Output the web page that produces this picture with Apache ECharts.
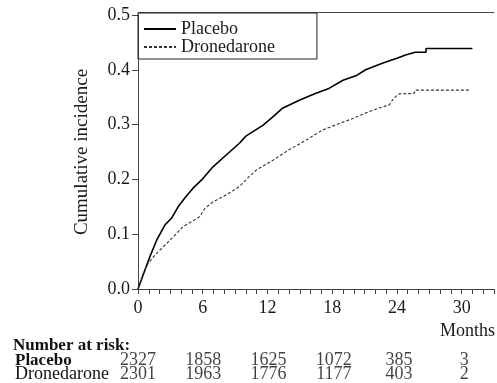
<!DOCTYPE html>
<html><head><meta charset="utf-8">
<script src="https://cdn.jsdelivr.net/npm/echarts@6/dist/echarts.min.js"></script>
<style>html,body{margin:0;padding:0;background:#fff}#c{width:497px;height:383px}</style>
</head><body><div id="c"></div>
<script>
const placeboMonths = [0, 0.65, 1.1, 1.73, 2.5, 3.1, 3.72, 4.34, 5.1, 5.9, 6.95, 8.2, 9.4, 10.0, 11.6, 12.5, 13.4, 15.0, 16.5, 17.7, 19.0, 20.2, 21.1, 22.65, 24.0, 24.8, 25.7, 26.7, 26.7, 31.0];
const placeboValues = [0, 0.035, 0.059, 0.089, 0.117, 0.129, 0.150, 0.166, 0.184, 0.199, 0.223, 0.245, 0.266, 0.279, 0.299, 0.314, 0.330, 0.345, 0.357, 0.366, 0.381, 0.389, 0.400, 0.412, 0.421, 0.427, 0.432, 0.432, 0.439, 0.439];
const dronMonths = [0, 0.49, 0.95, 1.57, 2.34, 3.26, 4.18, 4.96, 5.72, 6.19, 6.95, 8.2, 9.4, 10.3, 10.96, 12.5, 14.0, 15.6, 17.1, 18.65, 19.9, 21.1, 22.3, 23.3, 23.7, 24.2, 25.6, 25.7, 30.8];
const dronValues = [0, 0.029, 0.047, 0.062, 0.077, 0.095, 0.114, 0.123, 0.132, 0.147, 0.159, 0.172, 0.187, 0.205, 0.217, 0.235, 0.254, 0.272, 0.290, 0.302, 0.311, 0.321, 0.330, 0.336, 0.348, 0.356, 0.357, 0.363, 0.363];
const seriesNames = ['Placebo', 'Dronedarone'];
const riskMonths = [0, 6, 12, 18, 24, 30];
const riskPlacebo = [2327, 1858, 1625, 1072, 385, 3];
const riskDronedarone = [2301, 1963, 1776, 1177, 403, 2];
const riskRows = ['Dronedarone', 'Placebo'];

const FONT = '"Liberation Serif", "Times New Roman", serif';
const TXT = '#1a1a1a';
const AX = '#444';

const chart = echarts.init(document.getElementById('c'), null, {renderer: 'canvas'});
chart.setOption({
  animation: false,
  backgroundColor: '#fff',
  textStyle: {fontFamily: FONT, color: TXT},
  grid: [
    {left: 138, right: 0, top: 15, bottom: 94},
    {left: 138, right: 0, top: 354, height: 28}
  ],
  legend: {
    data: seriesNames,
    orient: 'vertical',
    left: 138, top: 13,
    padding: [7, 42, 3, 5],
    itemGap: 0,
    itemWidth: 32, itemHeight: 10,
    borderColor: '#222', borderWidth: 1,
    itemStyle: {opacity: 0},
    textStyle: {fontFamily: FONT, fontSize: 18, color: TXT, lineHeight: 14}
  },
  xAxis: [
    {
      type: 'value', gridIndex: 0, min: 0, max: 33, interval: 1,
      offset: 3,
      axisLine: {lineStyle: {color: AX, width: 1}},
      axisTick: {show: true, length: 5, lineStyle: {color: AX}},
      splitLine: {show: false},
      axisLabel: {
        fontFamily: FONT, fontSize: 18, color: TXT, margin: 7,
        formatter: v => (v % 6 === 0 && v <= 30) ? String(v) : ''
      }
    },
    {
      type: 'value', gridIndex: 0, min: 0, max: 33, position: 'top', offset: 3,
      axisLine: {show: true, lineStyle: {color: AX, width: 1}},
      axisTick: {show: false}, axisLabel: {show: false}, splitLine: {show: false}
    },
    {
      type: 'value', gridIndex: 1, min: 0, max: 33, show: false
    }
  ],
  yAxis: [
    {
      type: 'value', gridIndex: 0, min: 0, max: 0.5, interval: 0.1,
      axisLine: {show: true, lineStyle: {color: AX, width: 1}},
      axisTick: {show: true, length: 6, lineStyle: {color: AX}},
      splitLine: {show: false},
      axisLabel: {fontFamily: FONT, fontSize: 18, color: TXT, margin: 8, formatter: v => v.toFixed(1)},
      name: 'Cumulative incidence',
      nameLocation: 'middle', nameRotate: 90, nameGap: 46,
      nameTextStyle: {fontFamily: FONT, fontSize: 19, color: TXT}
    },
    {
      type: 'category', gridIndex: 1, data: riskRows,
      axisLine: {show: false}, axisTick: {show: false}, splitLine: {show: false},
      axisLabel: {
        show: true, interval: 0, align: 'left', margin: 123,
        formatter: v => v === 'Placebo' ? '{b|' + v + '}' : '{r|' + v + '}',
        rich: {
          b: {fontFamily: FONT, fontSize: 17, fontWeight: 'bold', color: '#111'},
          r: {fontFamily: FONT, fontSize: 18, color: '#111'}
        }
      }
    }
  ],
  graphic: [
    {type: 'text', left: 13, top: 337, style: {text: 'Number at risk:', font: 'bold 17px ' + FONT, fill: '#111'}},
    {type: 'text', left: 440, top: 322, style: {text: 'Months', font: '18px ' + FONT, fill: TXT}}
  ],
  series: [
    {
      name: seriesNames[0], type: 'line', xAxisIndex: 0, yAxisIndex: 0,
      data: placeboMonths.map((m, i) => [m, placeboValues[i]]),
      symbol: 'none', lineStyle: {color: '#000', width: 1.6}, itemStyle: {color: '#000'}
    },
    {
      name: seriesNames[1], type: 'line', xAxisIndex: 0, yAxisIndex: 0,
      data: dronMonths.map((m, i) => [m, dronValues[i]]),
      symbol: 'none', lineStyle: {color: '#333', width: 1.1, type: [3, 2]}, itemStyle: {color: '#333'}
    },
    {
      name: 'riskP', type: 'scatter', xAxisIndex: 2, yAxisIndex: 1,
      data: riskMonths.map((m, i) => [m, 'Placebo', riskPlacebo[i]]),
      symbolSize: 1, itemStyle: {color: 'rgba(0,0,0,0)'},
      label: {show: true, position: 'inside', formatter: p => String(p.value[2]), fontFamily: FONT, fontSize: 18, color: '#111'}
    },
    {
      name: 'riskD', type: 'scatter', xAxisIndex: 2, yAxisIndex: 1,
      data: riskMonths.map((m, i) => [m, 'Dronedarone', riskDronedarone[i]]),
      symbolSize: 1, itemStyle: {color: 'rgba(0,0,0,0)'},
      label: {show: true, position: 'inside', formatter: p => String(p.value[2]), fontFamily: FONT, fontSize: 18, color: '#111'}
    }
  ]
});
</script>
</body></html>
